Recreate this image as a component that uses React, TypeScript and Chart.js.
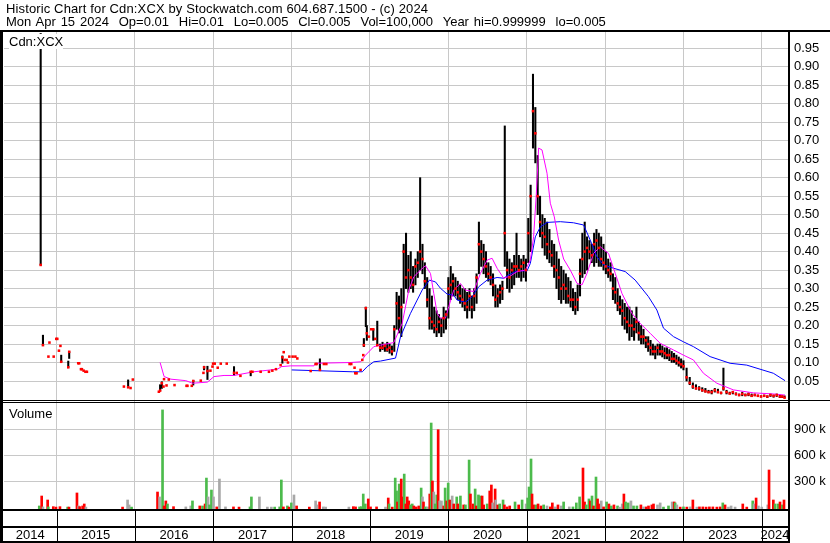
import React, { useEffect, useRef } from 'react';
import { Chart, registerables } from 'chart.js';

Chart.register(...registerables);

const FONT = 'Arial, "Liberation Sans", sans-serif';

const headerLine1 = 'Historic Chart for Cdn:XCX by Stockwatch.com 604.687.1500 - (c) 2024';
const headerLine2 = 'Mon Apr 15 2024  Op=0.01  Hi=0.01  Lo=0.005  Cl=0.005  Vol=100,000  Year hi=0.999999  lo=0.005';
const symbolLabel = 'Cdn:XCX';
const volumeLabel = 'Volume';

const yearLabels = ['2014', '2015', '2016', '2017', '2018', '2019', '2020', '2021', '2022', '2023', '2024'];
const yearStarts = [2014, 2015, 2016, 2017, 2018, 2019, 2020, 2021, 2022, 2023, 2024];
const rangeStart = 2014.33;
const rangeEnd = 2024.334;

const priceTicks = [0.05, 0.1, 0.15, 0.2, 0.25, 0.3, 0.35, 0.4, 0.45, 0.5, 0.55, 0.6, 0.65, 0.7, 0.75, 0.8, 0.85, 0.9, 0.95];
const volumeTicksK = [300, 600, 900];

// ---- daily prices (decimal year) ----
const priceDates = [
  2014.798, 2014.827, 2014.897, 2014.910, 2014.964, 2014.997, 2015.010, 2015.031, 2015.050, 2015.060,
  2015.150, 2015.162, 2015.277, 2015.290, 2015.312, 2015.324, 2015.346, 2015.369, 2015.388, 2015.860,
  2015.914, 2015.945, 2015.974, 2016.306, 2016.322, 2016.344, 2016.365, 2016.372, 2016.404, 2016.433,
  2016.506, 2016.659, 2016.671, 2016.726, 2016.745, 2016.841, 2016.875, 2016.883, 2016.926, 2016.964,
  2016.990, 2016.998, 2017.019, 2017.057, 2017.096, 2017.172, 2017.265, 2017.300, 2017.347, 2017.478,
  2017.500, 2017.605, 2017.711, 2017.754, 2017.800, 2017.860, 2017.882, 2017.899, 2017.911, 2017.937,
  2017.953, 2017.971, 2018.013, 2018.048, 2018.073, 2018.243, 2018.306, 2018.319, 2018.361, 2018.412,
  2018.443, 2018.740, 2018.761, 2018.803, 2018.812, 2018.829, 2018.880, 2018.902, 2018.914, 2018.922,
  2018.947, 2018.960, 2018.986, 2019.016, 2019.042, 2019.067, 2019.093,
  2019.13, 2019.16, 2019.19, 2019.22, 2019.25, 2019.28, 2019.31, 2019.34, 2019.37, 2019.40,
  2019.43, 2019.46, 2019.49, 2019.52, 2019.55, 2019.58, 2019.61, 2019.64, 2019.67, 2019.70,
  2019.73, 2019.76, 2019.79, 2019.82, 2019.85, 2019.88, 2019.91, 2019.94, 2019.97, 2020.00,
  2020.03, 2020.06, 2020.09, 2020.12, 2020.15, 2020.18, 2020.21, 2020.24, 2020.27, 2020.30,
  2020.33, 2020.36, 2020.39, 2020.42, 2020.45, 2020.48, 2020.51, 2020.54, 2020.57, 2020.60,
  2020.63, 2020.66, 2020.69, 2020.72, 2020.75, 2020.78, 2020.81, 2020.84, 2020.87, 2020.90,
  2020.93, 2020.96, 2020.99, 2021.02, 2021.05, 2021.08, 2021.11, 2021.14, 2021.17, 2021.20,
  2021.23, 2021.26, 2021.29, 2021.32, 2021.35, 2021.38, 2021.41, 2021.44, 2021.47, 2021.50,
  2021.53, 2021.56, 2021.59, 2021.62, 2021.65, 2021.68, 2021.71, 2021.74, 2021.77, 2021.80,
  2021.83, 2021.86, 2021.89, 2021.92, 2021.95, 2021.98, 2022.01, 2022.04, 2022.07, 2022.10,
  2022.13, 2022.16, 2022.19, 2022.22, 2022.25, 2022.28, 2022.31, 2022.34, 2022.37, 2022.40,
  2022.43, 2022.46, 2022.49, 2022.52, 2022.55, 2022.58, 2022.61, 2022.64, 2022.67, 2022.70,
  2022.73, 2022.76, 2022.79, 2022.82, 2022.85, 2022.88, 2022.91, 2022.94, 2022.97, 2023.00,
  2023.04, 2023.08, 2023.12, 2023.16, 2023.20, 2023.24, 2023.28, 2023.32, 2023.36, 2023.40,
  2023.44, 2023.48, 2023.51, 2023.55, 2023.59, 2023.63, 2023.67, 2023.71, 2023.75, 2023.79,
  2023.83, 2023.87, 2023.91, 2023.95, 2023.99, 2024.03, 2024.07, 2024.11, 2024.15, 2024.19,
  2024.23, 2024.26, 2024.29,
];

const priceHigh = [
  0.99, 0.174, 0.116, 0.154, 0.116, 0.164, 0.164, 0.132, 0.145, 0.120,
  0.104, 0.129, 0.098, 0.098, 0.082, 0.082, 0.078, 0.075, 0.075, 0.035,
  0.053, 0.031, 0.054, 0.021, 0.040, 0.048, 0.035, 0.055, 0.038, 0.054,
  0.039, 0.037, 0.037, 0.037, 0.052, 0.051, 0.072, 0.090, 0.090, 0.078,
  0.089, 0.097, 0.097, 0.086, 0.097, 0.097, 0.089, 0.072, 0.064, 0.075,
  0.075, 0.075, 0.075, 0.078, 0.082, 0.093, 0.118, 0.128, 0.107, 0.107,
  0.100, 0.116, 0.116, 0.116, 0.111, 0.077, 0.096, 0.096, 0.110, 0.096,
  0.096, 0.096, 0.096, 0.086, 0.071, 0.071, 0.080, 0.107, 0.120, 0.165,
  0.250, 0.200, 0.170, 0.190, 0.190, 0.164, 0.212,
  0.15, 0.155, 0.15, 0.155, 0.15, 0.145, 0.20, 0.29, 0.28, 0.30,
  0.42, 0.45, 0.39, 0.40, 0.36, 0.38, 0.40, 0.60, 0.42, 0.37,
  0.33, 0.30, 0.28, 0.25, 0.24, 0.23, 0.22, 0.25, 0.24, 0.33,
  0.36, 0.34, 0.33, 0.32, 0.31, 0.30, 0.30, 0.29, 0.30, 0.28,
  0.30, 0.34, 0.48, 0.43, 0.42, 0.40, 0.37, 0.36, 0.34, 0.31,
  0.30, 0.31, 0.32, 0.74, 0.40, 0.38, 0.37, 0.39, 0.45, 0.39,
  0.38, 0.39, 0.38, 0.49, 0.58, 0.88, 0.79, 0.66, 0.55, 0.50,
  0.49, 0.48, 0.46, 0.43, 0.42, 0.40, 0.38, 0.36, 0.35, 0.34,
  0.33, 0.32, 0.30, 0.29, 0.31, 0.38, 0.45, 0.48, 0.44, 0.43,
  0.42, 0.45, 0.46, 0.45, 0.44, 0.42, 0.40, 0.38, 0.37, 0.34,
  0.33, 0.30, 0.28, 0.27, 0.26, 0.25, 0.25, 0.24, 0.22, 0.25,
  0.21, 0.20, 0.19, 0.17, 0.17, 0.16, 0.15, 0.145, 0.15, 0.15,
  0.145, 0.14, 0.14, 0.135, 0.13, 0.125, 0.12, 0.115, 0.11, 0.105,
  0.085, 0.06, 0.045, 0.04, 0.035, 0.032, 0.03, 0.025, 0.025, 0.03,
  0.028, 0.02, 0.085, 0.025, 0.02, 0.022, 0.018, 0.015, 0.02, 0.015,
  0.018, 0.015, 0.015, 0.012, 0.01, 0.012, 0.01, 0.015, 0.012, 0.015,
  0.012, 0.01, 0.01,
];

const priceLow = [
  0.364, 0.147, 0.116, 0.154, 0.116, 0.164, 0.164, 0.132, 0.145, 0.102,
  0.087, 0.111, 0.098, 0.098, 0.082, 0.082, 0.078, 0.075, 0.075, 0.035,
  0.033, 0.031, 0.054, 0.021, 0.024, 0.030, 0.035, 0.055, 0.038, 0.054,
  0.039, 0.037, 0.037, 0.037, 0.039, 0.051, 0.072, 0.080, 0.054, 0.078,
  0.089, 0.097, 0.097, 0.086, 0.097, 0.097, 0.065, 0.072, 0.064, 0.064,
  0.075, 0.075, 0.075, 0.078, 0.082, 0.093, 0.098, 0.128, 0.107, 0.107,
  0.100, 0.116, 0.116, 0.116, 0.111, 0.077, 0.096, 0.096, 0.080, 0.096,
  0.096, 0.096, 0.096, 0.086, 0.071, 0.071, 0.080, 0.107, 0.120, 0.143,
  0.197, 0.160, 0.170, 0.190, 0.160, 0.164, 0.147,
  0.13, 0.135, 0.13, 0.13, 0.125, 0.12, 0.13, 0.19, 0.18, 0.17,
  0.26, 0.30, 0.29, 0.30, 0.29, 0.31, 0.33, 0.35, 0.34, 0.30,
  0.25, 0.19, 0.19, 0.18, 0.17, 0.18, 0.17, 0.18, 0.19, 0.22,
  0.27, 0.28, 0.28, 0.27, 0.26, 0.25, 0.24, 0.22, 0.24, 0.22,
  0.24, 0.26, 0.34, 0.36, 0.34, 0.33, 0.32, 0.31, 0.28, 0.25,
  0.25, 0.26, 0.27, 0.36, 0.30, 0.29, 0.30, 0.31, 0.33, 0.33,
  0.32, 0.33, 0.32, 0.37, 0.40, 0.68, 0.64, 0.50, 0.44, 0.41,
  0.39, 0.38, 0.37, 0.36, 0.33, 0.30, 0.27, 0.26, 0.27, 0.26,
  0.26, 0.25, 0.24, 0.23, 0.24, 0.28, 0.33, 0.34, 0.35, 0.38,
  0.37, 0.36, 0.37, 0.36, 0.36, 0.35, 0.34, 0.33, 0.32, 0.27,
  0.26, 0.24, 0.23, 0.20, 0.19, 0.18, 0.16, 0.17, 0.16, 0.18,
  0.16, 0.15, 0.15, 0.14, 0.13, 0.12, 0.12, 0.11, 0.12, 0.12,
  0.115, 0.11, 0.11, 0.105, 0.10, 0.10, 0.095, 0.09, 0.085, 0.08,
  0.05, 0.04, 0.03, 0.028, 0.025, 0.022, 0.02, 0.018, 0.015, 0.02,
  0.018, 0.015, 0.025, 0.015, 0.015, 0.015, 0.012, 0.01, 0.01, 0.01,
  0.01, 0.008, 0.01, 0.008, 0.007, 0.008, 0.005, 0.008, 0.006, 0.008,
  0.005, 0.005, 0.005,
];

const priceClose = [
  0.364, 0.147, 0.116, 0.154, 0.116, 0.164, 0.164, 0.132, 0.145, 0.102,
  0.087, 0.129, 0.098, 0.098, 0.082, 0.082, 0.078, 0.075, 0.075, 0.035,
  0.033, 0.031, 0.054, 0.021, 0.024, 0.044, 0.035, 0.055, 0.038, 0.054,
  0.039, 0.037, 0.037, 0.037, 0.050, 0.051, 0.072, 0.087, 0.077, 0.078,
  0.089, 0.097, 0.097, 0.086, 0.097, 0.097, 0.072, 0.072, 0.064, 0.075,
  0.075, 0.075, 0.075, 0.078, 0.082, 0.093, 0.114, 0.128, 0.107, 0.107,
  0.100, 0.116, 0.116, 0.116, 0.111, 0.077, 0.096, 0.096, 0.080, 0.096,
  0.096, 0.096, 0.096, 0.086, 0.071, 0.071, 0.080, 0.107, 0.120, 0.147,
  0.247, 0.179, 0.170, 0.190, 0.190, 0.164, 0.147,
  0.14, 0.14, 0.145, 0.135, 0.14, 0.13, 0.19, 0.26, 0.22, 0.25,
  0.40, 0.33, 0.35, 0.33, 0.31, 0.36, 0.37, 0.40, 0.38, 0.32,
  0.27, 0.22, 0.21, 0.20, 0.19, 0.21, 0.20, 0.22, 0.23, 0.30,
  0.31, 0.32, 0.30, 0.29, 0.28, 0.27, 0.26, 0.25, 0.28, 0.25,
  0.28, 0.33, 0.42, 0.40, 0.38, 0.36, 0.34, 0.33, 0.31, 0.27,
  0.28, 0.29, 0.30, 0.45, 0.35, 0.33, 0.35, 0.36, 0.36, 0.35,
  0.36, 0.37, 0.35, 0.45, 0.55, 0.78, 0.72, 0.55, 0.48, 0.45,
  0.44, 0.42, 0.40, 0.39, 0.36, 0.35, 0.33, 0.30, 0.31, 0.30,
  0.28, 0.27, 0.27, 0.25, 0.27, 0.34, 0.38, 0.40, 0.41, 0.40,
  0.39, 0.42, 0.43, 0.41, 0.38, 0.37, 0.36, 0.35, 0.34, 0.30,
  0.29, 0.26, 0.25, 0.24, 0.22, 0.21, 0.20, 0.20, 0.19, 0.21,
  0.18, 0.17, 0.17, 0.16, 0.15, 0.14, 0.13, 0.13, 0.14, 0.13,
  0.13, 0.125, 0.12, 0.12, 0.11, 0.11, 0.105, 0.10, 0.095, 0.09,
  0.06, 0.045, 0.035, 0.03, 0.03, 0.025, 0.022, 0.02, 0.02, 0.025,
  0.02, 0.018, 0.03, 0.02, 0.016, 0.02, 0.015, 0.012, 0.015, 0.012,
  0.014, 0.01, 0.012, 0.01, 0.008, 0.01, 0.008, 0.012, 0.01, 0.012,
  0.008, 0.008, 0.005,
];

// ---- moving averages ----
const maShortDates = [
  2016.322, 2016.373, 2016.459, 2016.650, 2016.735, 2016.926, 2017.010, 2017.138, 2017.265, 2017.520,
  2017.818, 2017.873, 2017.988, 2018.285, 2018.306, 2018.752, 2018.880, 2018.944, 2019.049, 2019.135,
  2019.304, 2019.411, 2019.495, 2019.559, 2019.645, 2019.708, 2019.772, 2019.814, 2019.857, 2019.899,
  2019.963, 2020.005, 2020.069, 2020.154, 2020.218, 2020.324, 2020.409, 2020.495, 2020.558, 2020.622,
  2020.706, 2020.791, 2020.877, 2020.983, 2021.046, 2021.088, 2021.123, 2021.152, 2021.195, 2021.259,
  2021.301, 2021.352, 2021.407, 2021.471, 2021.556, 2021.642, 2021.705, 2021.769, 2021.853, 2021.938,
  2022.044, 2022.130, 2022.215, 2022.279, 2022.342, 2022.448, 2022.576, 2022.703, 2022.873, 2023.000,
  2023.127, 2023.255, 2023.426, 2023.637, 2023.892, 2024.147, 2024.296,
];
const maShortValues = [
  0.100, 0.062, 0.055, 0.051, 0.044, 0.047, 0.062, 0.065, 0.065, 0.075,
  0.082, 0.089, 0.091, 0.091, 0.098, 0.100, 0.102, 0.120, 0.143, 0.147,
  0.154, 0.206, 0.296, 0.332, 0.350, 0.362, 0.341, 0.287, 0.233, 0.220,
  0.220, 0.251, 0.296, 0.314, 0.296, 0.292, 0.341, 0.377, 0.382, 0.355,
  0.328, 0.334, 0.346, 0.350, 0.377, 0.440, 0.558, 0.680, 0.675, 0.612,
  0.531, 0.494, 0.431, 0.380, 0.350, 0.314, 0.310, 0.341, 0.395, 0.413,
  0.395, 0.341, 0.287, 0.260, 0.233, 0.206, 0.179, 0.152, 0.134, 0.120,
  0.107, 0.071, 0.044, 0.026, 0.018, 0.015, 0.012,
];

const maLongDates = [
  2018.001, 2018.774, 2018.902, 2018.965, 2019.049, 2019.135, 2019.326, 2019.390, 2019.517, 2019.602,
  2019.666, 2019.759, 2019.836, 2019.899, 2019.985, 2020.069, 2020.112, 2020.218, 2020.303, 2020.388,
  2020.495, 2020.622, 2020.706, 2020.770, 2020.877, 2021.004, 2021.046, 2021.110, 2021.174, 2021.259,
  2021.429, 2021.598, 2021.726, 2021.811, 2021.896, 2021.981, 2022.108, 2022.257, 2022.384, 2022.554,
  2022.661, 2022.745, 2022.873, 2023.000, 2023.127, 2023.340, 2023.595, 2023.808, 2023.977, 2024.147,
  2024.296,
];
const maLongValues = [
  0.080, 0.075, 0.075, 0.089, 0.102, 0.104, 0.112, 0.170, 0.233, 0.269,
  0.296, 0.323, 0.318, 0.301, 0.285, 0.282, 0.269, 0.263, 0.278, 0.305,
  0.323, 0.330, 0.328, 0.337, 0.348, 0.348, 0.368, 0.440, 0.467, 0.479,
  0.481, 0.478, 0.472, 0.431, 0.386, 0.364, 0.355, 0.346, 0.323, 0.278,
  0.242, 0.193, 0.170, 0.156, 0.143, 0.116, 0.098, 0.093, 0.082, 0.071,
  0.051,
];

// ---- volume (thousands of shares); g = up, r = down, n = unchanged ----
const volumeDates = [
  2014.780, 2014.811, 2014.827, 2014.887, 2014.895, 2014.959, 2014.993, 2015.044, 2015.142, 2015.159,
  2015.261, 2015.282, 2015.295, 2015.333, 2015.354, 2015.375, 2015.843, 2015.907, 2015.927, 2015.958,
  2016.289, 2016.315, 2016.353, 2016.373, 2016.395, 2016.416, 2016.493, 2016.650, 2016.713, 2016.735,
  2016.828, 2016.863, 2016.896, 2016.913, 2016.934, 2016.952, 2016.977, 2017.003, 2017.045, 2017.079,
  2017.156, 2017.258, 2017.329, 2017.469, 2017.487, 2017.589, 2017.691, 2017.742, 2017.784, 2017.848,
  2017.869, 2017.895, 2017.946, 2017.966, 2017.997, 2018.030, 2018.064, 2018.226, 2018.306, 2018.319,
  2018.357, 2018.405, 2018.434, 2018.731, 2018.787, 2018.816, 2018.867, 2018.889, 2018.914, 2018.940,
  2018.978, 2019.007, 2019.084, 2019.198, 2019.233, 2019.243, 2019.284, 2019.322, 2019.339, 2019.351,
  2019.373, 2019.399, 2019.415, 2019.437, 2019.457, 2019.475, 2019.495, 2019.517, 2019.539, 2019.559,
  2019.590, 2019.623, 2019.653, 2019.670, 2019.683, 2019.708, 2019.738, 2019.763, 2019.781, 2019.797,
  2019.814, 2019.832, 2019.852, 2019.870, 2019.890, 2019.912, 2019.941, 2019.959, 2019.980, 2019.998,
  2020.018, 2020.049, 2020.069, 2020.107, 2020.120, 2020.154, 2020.196, 2020.218, 2020.265, 2020.282,
  2020.316, 2020.342, 2020.358, 2020.384, 2020.409, 2020.431, 2020.451, 2020.495, 2020.528, 2020.549,
  2020.566, 2020.597, 2020.604, 2020.630, 2020.655, 2020.698, 2020.715, 2020.749, 2020.783, 2020.851,
  2020.897, 2020.941, 2020.992, 2021.012, 2021.030, 2021.055, 2021.068, 2021.088, 2021.119, 2021.145,
  2021.183, 2021.216, 2021.259, 2021.301, 2021.327, 2021.365, 2021.399, 2021.441, 2021.471, 2021.543,
  2021.590, 2021.633, 2021.675, 2021.718, 2021.738, 2021.760, 2021.794, 2021.811, 2021.833, 2021.853,
  2021.884, 2021.904, 2021.926, 2021.951, 2021.981, 2022.019, 2022.049, 2022.079, 2022.113, 2022.159,
  2022.184, 2022.219, 2022.240, 2022.261, 2022.295, 2022.330, 2022.363, 2022.406, 2022.457, 2022.490,
  2022.525, 2022.554, 2022.597, 2022.618, 2022.669, 2022.703, 2022.745, 2022.809, 2022.856, 2022.882,
  2022.894, 2022.916, 2022.958, 2023.000, 2023.043, 2023.085, 2023.120, 2023.171, 2023.204, 2023.247,
  2023.289, 2023.331, 2023.375, 2023.426, 2023.468, 2023.502, 2023.531, 2023.574, 2023.608, 2023.659,
  2023.757, 2023.808, 2023.884, 2023.901, 2023.927, 2023.956, 2023.999, 2024.076, 2024.092, 2024.147,
  2024.169, 2024.207, 2024.232, 2024.262, 2024.283,
];
const volumeK = [
  13, 128, 2, 82, 2, 5, 0, 5, 0, 0,
  163, 13, 5, 13, 36, 0, 0, 82, 25, 0,
  174, 117, 1121, 13, 71, 36, 5, 2, 13, 71,
  13, 13, 36, 335, 117, 25, 197, 117, 2, 324,
  2, 2, 0, 2, 117, 117, 0, 0, 0, 2,
  313, 2, 13, 0, 48, 140, 13, 0, 71, 25,
  59, 2, 0, 0, 5, 2, 2, 5, 151, 36,
  94, 2, 2, 0, 105, 36, 0, 335, 186, 59,
  266, 324, 117, 381, 36, 117, 71, 25, 36, 13,
  2, 13, 220, 117, 59, 2, 2, 151, 970, 301,
  174, 36, 140, 893, 71, 71, 13, 220, 71, 278,
  82, 128, 36, 117, 36, 128, 25, 25, 543, 151,
  36, 209, 13, 140, 128, 128, 25, 36, 186, 255,
  48, 209, 82, 25, 36, 82, 25, 2, 13, 59,
  25, 82, 36, 105, 232, 555, 151, 25, 25, 36,
  13, 25, 13, 2, 48, 2, 25, 13, 59, 2,
  2, 48, 117, 451, 59, 25, 94, 71, 128, 13,
  347, 94, 36, 71, 2, 59, 36, 13, 25, 13,
  0, 36, 151, 59, 48, 71, 13, 13, 25, 2,
  2, 13, 25, 36, 25, 48, 0, 13, 59, 59,
  48, 25, 0, 2, 0, 2, 82, 0, 2, 2,
  0, 2, 2, 0, 2, 48, 25, 0, 13, 0,
  36, 0, 71, 36, 105, 13, 0, 25, 428, 82,
  36, 36, 59, 25, 82,
];
const volumeDir = [
  'g', 'r', 'n', 'r', 'g', 'r', 'r', 'r', 'g', 'r',
  'r', 'n', 'r', 'r', 'r', 'n', 'r', 'n', 'n', 'g',
  'r', 'n', 'g', 'r', 'r', 'g', 'r', 'n', 'n', 'g',
  'r', 'g', 'r', 'g', 'n', 'g', 'g', 'n', 'r', 'n',
  'n', 'r', 'r', 'g', 'g', 'n', 'n', 'n', 'g', 'g',
  'g', 'r', 'g', 'r', 'g', 'n', 'r', 'r', 'n', 'n',
  'r', 'n', 'n', 'n', 'r', 'r', 'g', 'g', 'g', 'g',
  'r', 'r', 'r', 'n', 'r', 'g', 'r', 'g', 'g', 'r',
  'g', 'r', 'r', 'g', 'r', 'r', 'r', 'g', 'g', 'r',
  'r', 'r', 'g', 'n', 'r', 'g', 'n', 'r', 'g', 'r',
  'n', 'g', 'g', 'r', 'n', 'n', 'r', 'g', 'r', 'g',
  'r', 'n', 'r', 'g', 'r', 'g', 'r', 'g', 'g', 'r',
  'r', 'g', 'r', 'g', 'g', 'r', 'r', 'g', 'r', 'r',
  'n', 'r', 'n', 'r', 'g', 'g', 'r', 'r', 'r', 'g',
  'r', 'g', 'n', 'g', 'g', 'g', 'r', 'r', 'g', 'r',
  'r', 'g', 'n', 'r', 'r', 'n', 'r', 'n', 'g', 'n',
  'g', 'g', 'g', 'r', 'r', 'g', 'g', 'r', 'g', 'r',
  'g', 'r', 'r', 'n', 'r', 'g', 'r', 'g', 'r', 'g',
  'n', 'n', 'r', 'g', 'g', 'n', 'g', 'g', 'r', 'n',
  'r', 'r', 'r', 'r', 'n', 'n', 'g', 'g', 'n', 'r',
  'g', 'n', 'r', 'g', 'r', 'n', 'r', 'n', 'r', 'r',
  'r', 'r', 'r', 'r', 'r', 'g', 'r', 'n', 'n', 'n',
  'r', 'r', 'g', 'n', 'r', 'n', 'n', 'n', 'r', 'r',
  'g', 'g', 'r', 'g', 'r',
];

const volumeColors: Record<string, string> = { g: '#4cbb4c', r: '#ff0000', n: '#a8a8a8' };

export default function App() {
  const ref = useRef<HTMLCanvasElement | null>(null);

  useEffect(() => {
    const canvas = ref.current;
    if (!canvas) return;

    const framePlugin = {
      id: 'frame',
      afterDraw(chart: any) {
        const { ctx, chartArea } = chart;
        const xs = chart.scales.x;
        const ys = chart.scales.y;
        const W = chart.width;
        const H = chart.height;
        const R = Math.round(chartArea.right);
        const top = Math.round(chartArea.top);
        const sep = Math.round(ys.bottom);
        const bot = Math.round(chartArea.bottom);
        ctx.save();
        ctx.fillStyle = '#000';
        ctx.fillRect(0, top - 2, W, 2);
        ctx.fillRect(0, top - 2, 3, H - top + 2);
        ctx.fillRect(R, top - 2, 2, H - top + 2);
        ctx.fillRect(0, sep - 1, W, 1);
        ctx.fillRect(0, sep + 1, R, 1);
        ctx.fillRect(0, bot, R, 2);
        ctx.fillRect(0, bot + 17, R, 2);
        ctx.fillRect(0, H - 2, R, 2);
        yearStarts.slice(1).forEach((b) => {
          const px = Math.round(xs.getPixelForValue(b));
          ctx.fillRect(px, bot + 2, 1, H - bot - 4);
        });
        ctx.restore();
      },
    };

    const yearMid = yearStarts.map((y) => (Math.max(y, rangeStart) + Math.min(y + 1, rangeEnd)) / 2);

    const barData = priceDates
      .map((d, i) => ({ x: d, y: [priceLow[i], priceHigh[i]] }))
      .filter((p) => p.y[1] > p.y[0]);
    const closeData = priceDates.map((d, i) => ({ x: d, y: priceClose[i] }));
    const maShort = maShortDates.map((d, i) => ({ x: d, y: maShortValues[i] }));
    const maLong = maLongDates.map((d, i) => ({ x: d, y: maLongValues[i] }));
    const volData = volumeDates.map((d, i) => ({ x: d, y: volumeK[i] * 1000 }));
    const volCols = volumeDir.map((c) => volumeColors[c]);

    const tickFont = { family: FONT, size: 13 };
    const volMin = -21900;

    const chart = new Chart(canvas, {
      type: 'bar',
      data: {
        datasets: [
          {
            type: 'line',
            data: closeData,
            yAxisID: 'y',
            showLine: false,
            pointStyle: 'rect',
            pointRadius: 1.8,
            pointBackgroundColor: '#ff0000',
            pointBorderWidth: 0,
            order: 1,
          } as any,
          {
            type: 'line',
            data: maShort,
            yAxisID: 'y',
            borderColor: '#ff00ff',
            borderWidth: 1,
            pointRadius: 0,
            tension: 0,
            order: 2,
          },
          {
            type: 'line',
            data: maLong,
            yAxisID: 'y',
            borderColor: '#0000ff',
            borderWidth: 1,
            pointRadius: 0,
            tension: 0,
            order: 3,
          },
          {
            type: 'bar',
            data: barData as any,
            yAxisID: 'y',
            backgroundColor: '#000000',
            barThickness: 1.4,
            grouped: false,
            borderWidth: 0,
            order: 5,
          },
          {
            type: 'bar',
            data: volData as any,
            yAxisID: 'yv',
            backgroundColor: volCols,
            barThickness: 2,
            grouped: false,
            borderWidth: 0,
            base: volMin,
            order: 5,
          } as any,
        ],
      },
      options: {
        responsive: false,
        animation: false,
        devicePixelRatio: 1,
        events: [],
        layout: { padding: { top: 32, left: 3, right: 0, bottom: 0 } },
        plugins: { legend: { display: false }, tooltip: { enabled: false } },
        scales: {
          x: {
            type: 'linear',
            position: 'bottom',
            min: rangeStart,
            max: rangeEnd,
            offset: false,
            grid: { display: false, offset: false },
            border: { display: false },
            afterBuildTicks: (a: any) => {
              a.ticks = yearMid.map((v) => ({ value: v }));
            },
            ticks: {
              autoSkip: false,
              maxRotation: 0,
              color: '#000',
              font: tickFont,
              padding: 11,
              callback: (_v: any, i: number) => yearLabels[i],
            },
            afterFit: (a: any) => {
              a.height = 34;
              a.paddingLeft = 0;
              a.paddingRight = 0;
            },
          },
          xg: {
            type: 'linear',
            position: 'bottom',
            min: rangeStart,
            max: rangeEnd,
            offset: false,
            grid: { color: '#c8c8c8', drawTicks: false, offset: false },
            border: { display: false },
            ticks: { display: false },
            afterBuildTicks: (a: any) => {
              a.ticks = yearStarts.slice(1).map((v) => ({ value: v }));
            },
            afterFit: (a: any) => {
              a.height = 0;
              a.paddingLeft = 0;
              a.paddingRight = 0;
            },
          },
          y: {
            type: 'linear',
            position: 'right',
            stack: 'panels',
            stackWeight: 369,
            min: -0.00406,
            max: 0.99405,
            grid: { color: '#c8c8c8', drawTicks: false },
            border: { display: false },
            afterBuildTicks: (a: any) => {
              a.ticks = priceTicks.map((v) => ({ value: v }));
            },
            ticks: {
              autoSkip: false,
              color: '#000',
              font: tickFont,
              padding: 6,
              callback: (v: any) => Number(v).toFixed(2),
            },
            afterFit: (a: any) => {
              a.width = 42;
            },
          },
          yv: {
            type: 'linear',
            position: 'right',
            stack: 'panels',
            stackWeight: 108,
            min: volMin,
            max: 1224000,
            grid: { color: '#c8c8c8', drawTicks: false },
            border: { display: false },
            afterBuildTicks: (a: any) => {
              a.ticks = volumeTicksK.map((v) => ({ value: v * 1000 }));
            },
            ticks: {
              autoSkip: false,
              color: '#000',
              font: tickFont,
              padding: 6,
              callback: (v: any) => `${Math.round(Number(v) / 1000)} k`,
            },
            afterFit: (a: any) => {
              a.width = 42;
            },
          },
        } as any,
      },
      plugins: [framePlugin],
    });

    return () => {
      chart.destroy();
    };
  }, []);

  const textBase: React.CSSProperties = {
    position: 'absolute',
    fontFamily: FONT,
    fontSize: 13,
    color: '#000',
    whiteSpace: 'pre',
  };

  return (
    <div style={{ position: 'absolute', left: 0, top: 0, width: 830, height: 543, background: '#fff', overflow: 'hidden' }}>
      <canvas ref={ref} width={830} height={543} style={{ position: 'absolute', left: 0, top: 0, width: 830, height: 543 }} />
      <div style={{ ...textBase, left: 6, top: 2, lineHeight: '13px' }}>
        <div style={{ letterSpacing: '0.13px' }}>{headerLine1}</div>
        <div style={{ wordSpacing: '1.3px' }}>{headerLine2}</div>
      </div>
      <div style={{ ...textBase, left: 9, top: 34, lineHeight: '15px', background: '#fff' }}>{symbolLabel}</div>
      <div style={{ ...textBase, left: 9, top: 406, lineHeight: '15px' }}>{volumeLabel}</div>
    </div>
  );
}
